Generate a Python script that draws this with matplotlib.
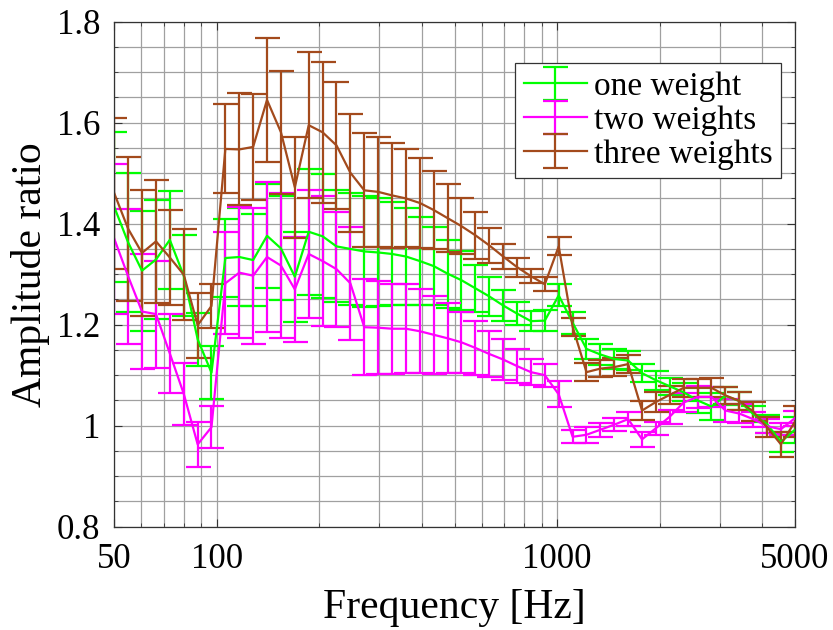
import numpy as np
import matplotlib
matplotlib.use("Agg")
import matplotlib.pyplot as plt
from matplotlib.ticker import FixedLocator, LogLocator, NullFormatter, MultipleLocator, FuncFormatter

plt.rcParams['font.family'] = ['Liberation Serif', 'DejaVu Serif']

# frequency points [Hz]
freq = [50, 54.9, 60.3, 66.3, 72.8, 80.0, 87.9, 96.5, 106.0, 116.5,
        127.9, 140.5, 154.4, 169.6, 186.3, 204.6, 224.8, 246.9, 271.3, 298.0,
        327.4, 359.6, 395.0, 434.0, 476.7, 523.7, 575.3, 631.9, 694.2, 762.6,
        837.7, 920.2, 1010.9, 1110.5, 1219.9, 1340.1, 1472.1, 1617.1, 1776.4, 1951.4,
        2143.6, 2354.8, 2586.8, 2841.6, 3121.5, 3429.0, 3766.8, 4137.9, 4545.5, 5000]

one_mean = [1.433, 1.363, 1.307, 1.329, 1.368, 1.297, 1.171, 1.105, 1.332, 1.334,
            1.328, 1.376, 1.351, 1.295, 1.384, 1.375, 1.355, 1.350, 1.345, 1.343,
            1.340, 1.335, 1.326, 1.316, 1.301, 1.288, 1.272, 1.256, 1.238, 1.222,
            1.207, 1.208, 1.258, 1.204, 1.152, 1.141, 1.132, 1.129, 1.104, 1.090,
            1.078, 1.066, 1.050, 1.038, 1.059, 1.049, 1.023, 1.003, 0.968, 0.992]
one_err = [0.148, 0.138, 0.119, 0.118, 0.097, 0.080, 0.053, 0.053, 0.077, 0.098,
           0.091, 0.103, 0.103, 0.089, 0.125, 0.123, 0.111, 0.111, 0.110, 0.107,
           0.102, 0.096, 0.087, 0.077, 0.067, 0.058, 0.047, 0.038, 0.030, 0.023,
           0.020, 0.021, 0.022, 0.022, 0.019, 0.020, 0.019, 0.019, 0.018, 0.019,
           0.017, 0.018, 0.025, 0.026, 0.018, 0.018, 0.015, 0.018, 0.020, 0.026]

two_mean = [1.370, 1.296, 1.226, 1.221, 1.143, 1.063, 0.963, 0.997, 1.282, 1.303,
            1.297, 1.334, 1.317, 1.270, 1.340, 1.326, 1.310, 1.282, 1.195, 1.194,
            1.192, 1.192, 1.187, 1.180, 1.173, 1.165, 1.154, 1.142, 1.131, 1.118,
            1.106, 1.100, 1.062, 0.978, 0.982, 0.992, 1.002, 1.013, 0.973, 0.995,
            1.018, 1.046, 1.057, 1.057, 1.030, 1.024, 1.013, 0.999, 0.993, 1.015]
two_err = [0.149, 0.134, 0.114, 0.106, 0.078, 0.062, 0.044, 0.042, 0.101, 0.130,
           0.135, 0.148, 0.144, 0.104, 0.127, 0.128, 0.114, 0.112, 0.095, 0.092,
           0.089, 0.088, 0.083, 0.077, 0.069, 0.060, 0.054, 0.045, 0.040, 0.033,
           0.026, 0.023, 0.026, 0.013, 0.016, 0.014, 0.013, 0.014, 0.015, 0.013,
           0.014, 0.018, 0.022, 0.020, 0.022, 0.018, 0.015, 0.014, 0.012, 0.015]

three_mean = [1.460, 1.390, 1.342, 1.365, 1.333, 1.299, 1.199, 1.237, 1.548, 1.547,
              1.552, 1.645, 1.581, 1.472, 1.595, 1.581, 1.555, 1.501, 1.466, 1.463,
              1.456, 1.450, 1.441, 1.427, 1.411, 1.395, 1.377, 1.357, 1.335, 1.314,
              1.296, 1.280, 1.355, 1.196, 1.106, 1.113, 1.116, 1.122, 1.030, 1.047,
              1.061, 1.075, 1.075, 1.075, 1.060, 1.049, 1.028, 0.997, 0.963, 1.008]
three_err = [0.150, 0.143, 0.124, 0.122, 0.095, 0.090, 0.064, 0.043, 0.088, 0.111,
             0.105, 0.122, 0.122, 0.100, 0.144, 0.140, 0.125, 0.117, 0.113, 0.109,
             0.104, 0.097, 0.089, 0.078, 0.068, 0.056, 0.046, 0.035, 0.025, 0.019,
             0.014, 0.014, 0.018, 0.018, 0.018, 0.017, 0.018, 0.018, 0.019, 0.019,
             0.018, 0.018, 0.018, 0.019, 0.017, 0.018, 0.018, 0.020, 0.025, 0.031]

labels = ['one weight', 'two weights', 'three weights']
colors = ['#00ff00', '#ff00ff', '#a34a1c']

fig = plt.figure(figsize=(8.33, 6.30), dpi=100)
ax = fig.add_axes([0.1372, 0.164, 0.8172, 0.8016])

series = [(one_mean, one_err), (two_mean, two_err), (three_mean, three_err)]
for (m, e), lab, c in zip(series, labels, colors):
    ax.errorbar(freq, m, yerr=e, color=c, lw=1.6, elinewidth=1.6,
                capsize=9, capthick=1.6, label=lab)

ax.set_xscale('log')
ax.set_xlim(50, 5000)
ax.set_ylim(0.8, 1.8)

ax.xaxis.set_major_locator(FixedLocator([50, 100, 1000, 5000]))
ax.xaxis.set_major_formatter(FuncFormatter(lambda v, p: '%g' % v))
ax.xaxis.set_minor_locator(LogLocator(base=10, subs=np.arange(2, 10)))
ax.xaxis.set_minor_formatter(NullFormatter())
ax.yaxis.set_major_locator(MultipleLocator(0.2))
ax.yaxis.set_minor_locator(MultipleLocator(0.05))
ax.yaxis.set_major_formatter(FuncFormatter(lambda v, p: '%g' % round(v, 2)))

ax.grid(True, which='both', color='#a0a0a0', lw=0.9)
ax.set_axisbelow(True)
ax.tick_params(which='both', direction='in', top=True, right=True, labelsize=25, color='#333333')
ax.tick_params(which='major', length=6, pad=10)
ax.tick_params(axis='x', which='major', pad=12)
ax.tick_params(which='minor', length=3)
for s in ax.spines.values():
    s.set_color('#333333')
    s.set_linewidth(0.9)

ax.set_xlabel('Frequency [Hz]', fontsize=30, labelpad=9)
ax.set_ylabel('Amplitude ratio', fontsize=30, labelpad=5)

leg = ax.legend(loc='upper right', bbox_to_anchor=(0.979, 0.9176), borderaxespad=0,
                fontsize=24, handlelength=1.9, handletextpad=0.2, labelspacing=0.1,
                borderpad=0.25, fancybox=False, framealpha=1, edgecolor='#333333')
leg.get_frame().set_linewidth(0.9)

fig.savefig('out.png', dpi=100)
